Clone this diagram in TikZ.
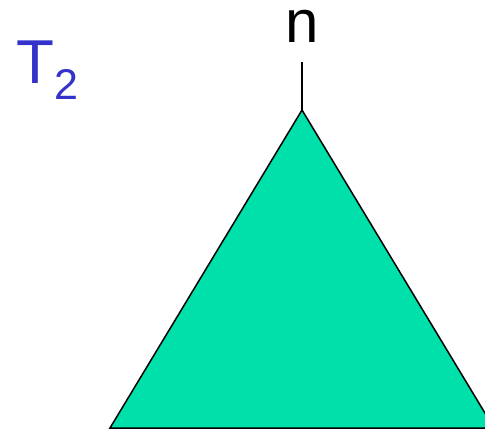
\documentclass[tikz,border=0pt]{standalone}
\usepackage{fontspec}
\setmainfont{Liberation Sans}
\usetikzlibrary{positioning}
\definecolor{treegreen}{RGB}{0,224,170}
\definecolor{labelblue}{RGB}{51,51,204}
\tikzset{
    x=1pt, y=-1pt,
    tree_label/.style={
        anchor=base,
        inner sep=0pt,
        font=\fontsize{60}{60}\selectfont
    },
    tree_name/.style={
        anchor=base west,
        inner sep=0pt,
        text=labelblue,
        font=\fontsize{62}{62}\selectfont
    },
    subtree/.style={
        draw=black,
        fill=treegreen,
        line width=1.5pt,
        line join=miter
    },
    stem/.style={
        draw=black,
        line width=1.5pt
    }
}

\begin{document}
\begin{tikzpicture}
\useasboundingbox (0,0) rectangle (485,429);
\clip (0,0) rectangle (485,429);

% --- Names ---
\node[tree_name] (Tname) at (16,83) {T\raisebox{-16pt}{\fontsize{43}{43}\selectfont 2}};
\node[tree_label] (n) at (302,42) {n};

% --- Subtree ---
\coordinate (stemtop) at (302,62);
\coordinate (apex) at (302,110);
\coordinate (baseL) at (110,428);
\coordinate (baseR) at (494,428);
\path[subtree] (apex) -- (baseL) -- (baseR) -- cycle;

% --- Edges ---
\draw[stem] (stemtop) -- (apex);

\end{tikzpicture}
\end{document}
